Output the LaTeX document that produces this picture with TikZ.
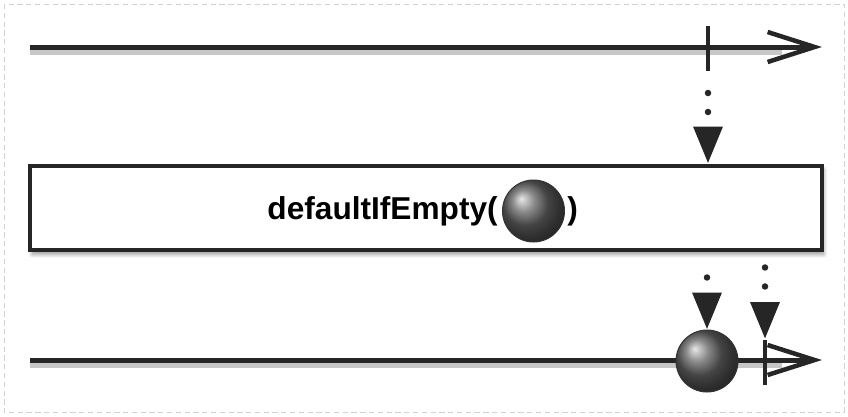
\documentclass[tikz,border=0pt]{standalone}
\usepackage{fontspec}
\setmainfont{Liberation Sans}
\usetikzlibrary{arrows.meta, positioning, calc, shadows.blur}

\tikzstyle{timeline}  = [line width=0.1cm, black!85,
                          -{Straight Barb[length=0.94cm, width=0.6cm, line width=0.09cm]}]
\tikzstyle{lineshade} = [line width=0.12cm, black!22]
\tikzstyle{operator}  = [rectangle, draw=black!85, line width=0.08cm, fill=white,
                          minimum width=15.84cm, minimum height=1.7cm,
                          blur shadow={shadow xshift=0.04cm, shadow yshift=-0.08cm, shadow blur steps=6}]
\tikzstyle{marble}    = [circle, inner sep=0pt, minimum size=1.24cm, draw=black!80, line width=0.02cm,
                          shading=ball, ball color=black!62]
\tikzstyle{done}      = [line width=0.07cm, black!85]
\tikzstyle{emit}      = [line width=0.13cm, black!85, line cap=round, dash pattern=on 0pt off 0.38cm,
                          -{Triangle[length=0.74cm, width=0.56cm]}]

\begin{document}
\begin{tikzpicture}[x=0.02cm, y=-0.02cm]
  \useasboundingbox (0,0) rectangle (848,416);
  \draw[black!18, line width=0.02cm, densely dashed] (4,4) rectangle (844,412);

  % Source timeline
  \coordinate (srcL) at (30,47);
  \coordinate (srcR) at (822,47);
  \coordinate (srcEnd) at (708,47);
  \draw[lineshade] ($(srcL)+(0,5)$) -- ($(srcR)+(-40,5)$);
  \draw[timeline] (srcL) -- (srcR);
  \draw[done] ($(srcEnd)+(0,-21)$) -- ($(srcEnd)+(0,24)$);

  % Operator box
  \node (op) [operator] at (426,208) {};
  \node (label) [font=\fontsize{18}{20}\selectfont\bfseries, anchor=east, inner sep=0pt] at (498,211) {defaultIfEmpty(};
  \node (dflt) [marble, right=0.08cm of label] {};
  \node (rpar) [font=\fontsize{18}{20}\selectfont\bfseries, right=0.04cm of dflt, inner sep=0pt] {)};

  % Result timeline
  \coordinate (outL) at (30,360);
  \coordinate (outR) at (822,360);
  \draw[lineshade] ($(outL)+(0,5)$) -- ($(outR)+(-40,5)$);
  \draw[timeline] (outL) -- (outR);
  \node (item) [marble] at (707,361) {};
  \coordinate (outEnd) at (765,360);
  \draw[done] ($(outEnd)+(0,-20)$) -- ($(outEnd)+(0,25)$);

  % Emissions
  \draw[emit] ($(srcEnd)+(0,46)$) -- (op.north -| srcEnd);
  \draw[emit] ($(op.south -| item)+(0,25)$) -- (item.north);
  \draw[emit] ($(op.south -| outEnd)+(0,15)$) -- ($(outEnd)+(0,-21)$);
\end{tikzpicture}
\end{document}
